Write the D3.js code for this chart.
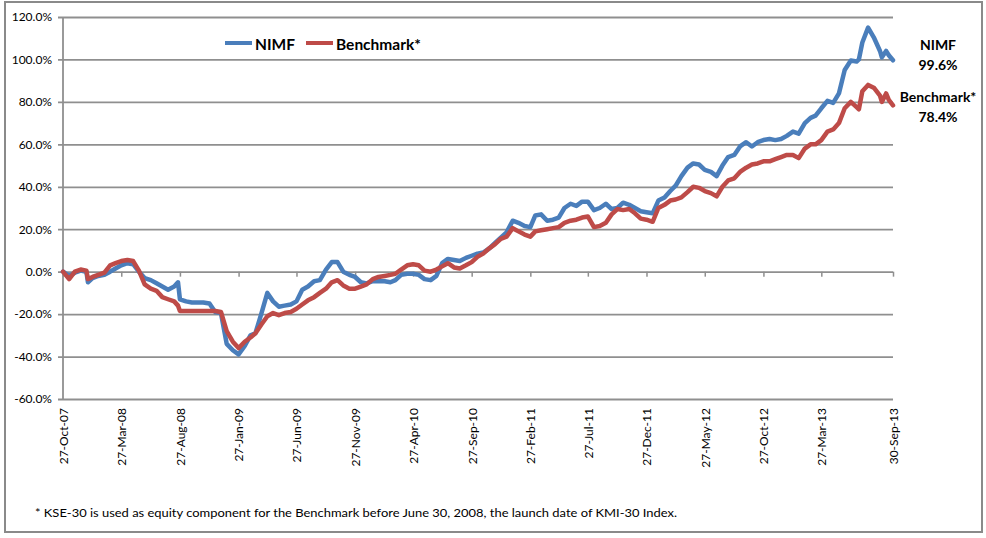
<!DOCTYPE html>
<html><head><meta charset="utf-8">
<script src="https://cdn.jsdelivr.net/npm/d3@7"></script>
<style>
body{margin:0;background:#fff}
svg{display:block}
text{font-family:Lato,"Open Sans",sans-serif;fill:#000}
</style>
</head><body>
<svg id="chart" width="986" height="538"></svg>
<script>
const dates = ["2007-10-27","2007-11-12","2007-11-27","2007-12-12","2007-12-27","2007-12-31","2008-01-12","2008-01-27","2008-02-12","2008-02-27",
"2008-03-12","2008-03-27","2008-04-12","2008-04-27","2008-05-12","2008-05-27","2008-06-12","2008-06-27","2008-07-12","2008-07-27",
"2008-08-12","2008-08-22","2008-08-27","2008-09-12","2008-09-27","2008-10-12","2008-10-27","2008-11-12","2008-11-27","2008-12-12",
"2008-12-27","2009-01-12","2009-01-27","2009-02-12","2009-02-27","2009-03-12","2009-03-27","2009-04-12","2009-04-27","2009-05-12",
"2009-05-27","2009-06-12","2009-06-27","2009-07-12","2009-07-27","2009-08-12","2009-08-27","2009-09-12","2009-09-27","2009-10-12",
"2009-10-27","2009-11-12","2009-11-27","2009-12-12","2009-12-27","2010-01-12","2010-01-27","2010-02-12","2010-02-27","2010-03-12",
"2010-03-27","2010-04-12","2010-04-27","2010-05-12","2010-05-27","2010-06-12","2010-06-27","2010-07-12","2010-07-27","2010-08-12",
"2010-08-27","2010-09-12","2010-09-27","2010-10-12","2010-10-27","2010-11-12","2010-11-27","2010-12-12","2010-12-27","2011-01-12",
"2011-01-27","2011-02-12","2011-02-27","2011-03-12","2011-03-27","2011-04-12","2011-04-27","2011-05-12","2011-05-27","2011-06-12",
"2011-06-27","2011-07-12","2011-07-27","2011-08-12","2011-08-27","2011-09-12","2011-09-27","2011-10-12","2011-10-27","2011-11-12",
"2011-11-27","2011-12-12","2011-12-27","2012-01-12","2012-01-27","2012-02-12","2012-02-27","2012-03-12","2012-03-27","2012-04-12",
"2012-04-27","2012-05-12","2012-05-27","2012-06-12","2012-06-27","2012-07-12","2012-07-27","2012-08-12","2012-08-27","2012-09-12",
"2012-09-27","2012-10-12","2012-10-27","2012-11-12","2012-11-27","2012-12-12","2012-12-27","2013-01-12","2013-01-27","2013-02-12",
"2013-02-27","2013-03-12","2013-03-27","2013-04-12","2013-04-27","2013-05-12","2013-05-27","2013-06-12","2013-06-27","2013-07-03",
"2013-07-12","2013-07-27","2013-08-12","2013-08-27","2013-09-01","2013-09-12","2013-09-19","2013-09-30"];

const nimf = [0,-2,-0.5,0.5,0,-5,-3,-2,-1.5,0,
1.5,3,4,3.5,0,-3,-4,-5.5,-7,-8.5,
-7,-5,-13,-14,-14.5,-14.5,-14.5,-15,-19,-19.5,
-34,-37,-39,-35,-30,-29,-20,-10,-14,-16.5,
-16,-15.5,-14,-8.5,-7,-4.5,-4,1,4.5,4.5,
0,-1.5,-2.5,-5,-5.5,-4.5,-4.5,-4.5,-5,-4,
-1.5,-1,-1,-1.5,-3.5,-4,-2,4,6,5.5,
5,6.5,7.5,8.5,9,11,13.5,16,18.5,24,
23,21.5,21,26.5,27,24,24.5,25.5,30,32,
31,33,33,29,30,32,29.5,30,32.5,31.5,
30,28.5,28,27.5,33.5,35,38,40.5,45,49,
51,50.5,48,47,45,50,54,55,59,61,
59,61,62,62.5,62,62.5,64,66,65,70,
72.5,73.5,77,80.5,79.5,84,95,99.5,99,100,
108,115,110,104,101,104,102,99.6];

const benchmark = [0,-3.5,0,1,0.5,-3.5,-2.5,-1.5,-0.5,3,
4,5,5.5,5,0.5,-6,-8,-9,-12,-13,
-14,-16,-18.5,-18.5,-18.5,-18.5,-18.5,-18.5,-18.5,-19,
-28,-33,-36,-33,-31,-29,-25,-21,-19.5,-20.5,
-19.5,-19,-17.5,-15.5,-13.5,-12,-10,-8,-5,-4,
-6.5,-8,-8,-7,-6,-3.5,-2.5,-2,-1.5,-1,
1,3,3.5,3,0.5,0,1,2.5,4,2,
1.5,3,4.5,7,8.5,11,13,15.5,16.5,20.5,
19,17.5,16.5,19,19.5,20,20.5,21,23,24,
24.5,25.5,26,21,21.5,23,27,29.5,29,29.5,
27.5,25,24.5,23.5,30,31.5,33.5,34,35,37.5,
40,39.5,38,37,35.5,40,43,44,47,49,
50.5,51,52,52,53,54,55,55,53.5,58,
60,60,62,66,67,70,77,80,77.5,76.5,
85,88,86.5,83,80,84,81,78.4];

const tickDates = ["2007-10-27","2008-03-27","2008-08-27","2009-01-27","2009-06-27","2009-11-27","2010-04-27",
"2010-09-27","2011-02-27","2011-07-27","2011-12-27","2012-05-27","2012-10-27","2013-03-27","2013-09-30"];
const yTicks = [-60,-40,-20,0,20,40,60,80,100,120];
const seriesNames = ["NIMF","Benchmark*"];
const seriesColors = ["#4a7ebb","#be4b48"];
const endValues = ["99.6%","78.4%"];
const footnote = "* KSE-30 is used as equity component for the Benchmark before June 30, 2008,  the launch date of KMI-30 Index.";

const parse = d3.utcParse("%Y-%m-%d");
const fmt = d3.utcFormat("%d-%b-%y");
const svg = d3.select("#chart");

const pL = 63, pR = 893, pT = 17, pB = 399;
const x = d3.scaleUtc().domain([parse(dates[0]), parse(dates[dates.length-1])]).range([pL, pR]);
const y = d3.scaleLinear().domain([-60, 120]).range([pB, pT]);

// outer border
svg.append("rect").attr("x",5).attr("y",2).attr("width",977).attr("height",530)
  .attr("fill","none").attr("stroke","#8a8a8a").attr("stroke-width",2);

// y axis with gridlines
const yAxis = svg.append("g").attr("transform",`translate(${pL},0)`)
  .call(d3.axisLeft(y).tickValues(yTicks).tickSize(-(pR-pL)).tickPadding(11)
    .tickFormat(d => d.toFixed(1) + "%"));
yAxis.select(".domain").remove();
yAxis.selectAll(".tick line").attr("x1",-5).attr("stroke","#8f8f8f").attr("stroke-width",1.8);
yAxis.selectAll(".tick text").style("font-size","12px").style("font-family","Lato").attr("fill","#000");

// vertical axis line
svg.append("line").attr("x1",pL).attr("x2",pL).attr("y1",pT).attr("y2",pB)
  .attr("stroke","#8f8f8f").attr("stroke-width",1.8);

// x axis tick marks at 0%
const xTicksG = svg.append("g").attr("transform",`translate(0,${y(0)})`)
  .call(d3.axisBottom(x).tickValues(tickDates.map(parse)).tickSize(5).tickFormat(""));
xTicksG.select(".domain").remove();
xTicksG.selectAll(".tick line").attr("stroke","#8f8f8f").attr("stroke-width",1.5);

// x labels at bottom
const xLab = svg.append("g").attr("transform",`translate(0,${pB})`)
  .call(d3.axisBottom(x).tickValues(tickDates.map(parse)).tickSize(0).tickFormat(fmt));
xLab.select(".domain").remove();
xLab.selectAll(".tick text")
  .attr("transform","rotate(-90)").attr("text-anchor","end")
  .attr("x",-9).attr("y",0).attr("dy","0.36em")
  .style("font-size","12px").style("font-family","Lato").attr("fill","#000");

// lines
const parsed = dates.map(parse);
const series = [nimf, benchmark];
const line = d3.line().x((d,i) => x(parsed[i])).y(d => y(d)).curve(d3.curveLinear);
series.forEach((vals, k) => {
  svg.append("path").datum(vals).attr("d", line)
    .attr("fill","none").attr("stroke",seriesColors[k]).attr("stroke-width",4.5)
    .attr("stroke-linejoin","round").attr("stroke-linecap","round");
});

// legend
const legX = [225, 306];
seriesNames.forEach((n,k) => {
  svg.append("line").attr("x1",legX[k]).attr("x2",legX[k]+27).attr("y1",43).attr("y2",43)
    .attr("stroke",seriesColors[k]).attr("stroke-width",4);
  svg.append("text").attr("x",legX[k]+30).attr("y",49.5).text(n)
    .style("font-size","15.5px").style("font-weight","bold");
});

// end labels
const endY = [[50,70],[102,122]];
seriesNames.forEach((n,k) => {
  svg.append("text").attr("x",938).attr("y",endY[k][0]).attr("text-anchor","middle")
    .style("font-size","14px").style("font-weight","bold").text(n);
  svg.append("text").attr("x",938).attr("y",endY[k][1]).attr("text-anchor","middle")
    .style("font-size","14px").style("font-weight","bold").text(endValues[k]);
});

// footnote
svg.append("text").attr("x",35).attr("y",517).attr("textLength",642).attr("lengthAdjust","spacingAndGlyphs")
  .style("font-size","12px").text(footnote);
</script>
</body></html>
